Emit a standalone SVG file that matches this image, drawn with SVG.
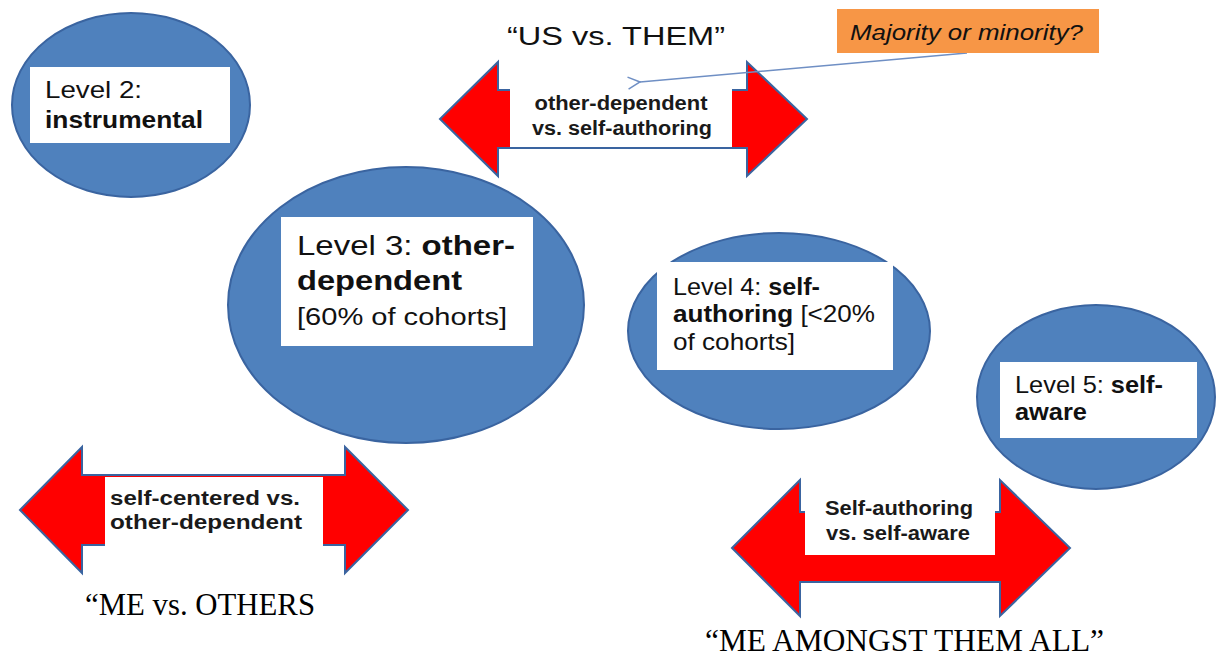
<svg xmlns="http://www.w3.org/2000/svg" width="1217" height="659" viewBox="0 0 1217 659">
  <defs>
    <style>
      .stage { fill: #4F81BD; stroke: #3A64A0; stroke-width: 2; }
      .tag { fill: #FFFFFF; }
      .span { fill: #FF0000; stroke: #3A64A0; stroke-width: 2; stroke-linejoin: miter; }
      .sans { font-family: "Liberation Sans", Arial, sans-serif; fill: #111111; }
      .serif { font-family: "Liberation Serif", "Times New Roman", serif; fill: #000000; }
      .b { font-weight: bold; }
      .lbl { font-family: "Liberation Sans", Arial, sans-serif; font-weight: bold; font-size: 20px; fill: #1a1a1a; }
      .pointer { fill: none; stroke: #6F8FC4; stroke-width: 1.5; }
    </style>
    <marker id="openHead" viewBox="0 0 14 14" refX="1" refY="7" markerWidth="14" markerHeight="14" markerUnits="userSpaceOnUse" orient="auto">
      <path d="M13,1 L1,7 L13,13" fill="none" stroke="#6F8FC4" stroke-width="1.5"/>
    </marker>
  </defs>
  <rect x="0" y="0" width="1217" height="659" fill="#FFFFFF"/>

  <!-- double-headed span arrows -->
  <g id="connectors">
    <g id="span-us-them">
      <path class="span" d="M440,119 L498,62 L498,90 L747,90 L747,62 L807,119 L747,176 L747,148 L498,148 L498,176 Z"/>
      <rect class="tag" x="510" y="84" width="222" height="63"/>
      <text class="lbl" x="621" y="110" text-anchor="middle" textLength="173" lengthAdjust="spacingAndGlyphs">other-dependent</text>
      <text class="lbl" x="622" y="135" text-anchor="middle" textLength="180" lengthAdjust="spacingAndGlyphs">vs. self-authoring</text>
    </g>
    <g id="span-me-others">
      <path class="span" d="M20,510 L82,447 L82,475 L345,475 L345,447 L408,510 L345,573 L345,545 L82,545 L82,573 Z"/>
      <rect class="tag" x="105" y="477" width="218" height="72"/>
      <text class="lbl" x="110" y="505" font-size="22" textLength="190" lengthAdjust="spacingAndGlyphs">self-centered vs.</text>
      <text class="lbl" x="110" y="529" font-size="22" textLength="192" lengthAdjust="spacingAndGlyphs">other-dependent</text>
    </g>
    <g id="span-me-all">
      <path class="span" d="M732,548 L800,480 L800,512 L1000,512 L1000,480 L1070,548 L1000,616 L1000,582 L800,582 L800,616 Z"/>
      <rect class="tag" x="805" y="490" width="190" height="65"/>
      <text class="lbl" x="825" y="515" font-size="21" textLength="148" lengthAdjust="spacingAndGlyphs">Self-authoring</text>
      <text class="lbl" x="826" y="540" font-size="21" textLength="144" lengthAdjust="spacingAndGlyphs">vs. self-aware</text>
    </g>
    <!-- callout pointer -->
    <line class="pointer" x1="967" y1="53" x2="640" y2="82" marker-end="url(#openHead)"/>
  </g>

  <!-- stage ellipses -->
  <g id="level2">
    <ellipse class="stage" cx="131" cy="105" rx="119" ry="92"/>
    <rect class="tag" x="30" y="67" width="200" height="76"/>
    <text class="sans" x="45" y="98" font-size="24" textLength="97" lengthAdjust="spacingAndGlyphs">Level 2:</text>
    <text class="sans b" x="45" y="128" font-size="24" textLength="158" lengthAdjust="spacingAndGlyphs">instrumental</text>
  </g>
  <g id="level3">
    <ellipse class="stage" cx="406" cy="305" rx="178" ry="138"/>
    <rect class="tag" x="281" y="217" width="252" height="129"/>
    <text class="sans" x="297" y="255" font-size="28" textLength="218" lengthAdjust="spacingAndGlyphs">Level 3: <tspan class="b">other-</tspan></text>
    <text class="sans b" x="297" y="290" font-size="28" textLength="165" lengthAdjust="spacingAndGlyphs">dependent</text>
    <text class="sans" x="297" y="325" font-size="23" textLength="210" lengthAdjust="spacingAndGlyphs">[60% of cohorts]</text>
  </g>
  <g id="level4">
    <ellipse class="stage" cx="779" cy="331" rx="151" ry="98"/>
    <rect class="tag" x="657" y="262" width="236" height="108"/>
    <text class="sans" x="673" y="295" font-size="24" textLength="147" lengthAdjust="spacingAndGlyphs">Level 4: <tspan class="b">self-</tspan></text>
    <text class="sans" x="673" y="322" font-size="24" textLength="202" lengthAdjust="spacingAndGlyphs"><tspan class="b">authoring</tspan> [&lt;20%</text>
    <text class="sans" x="673" y="350" font-size="24" textLength="122" lengthAdjust="spacingAndGlyphs">of cohorts]</text>
  </g>
  <g id="level5">
    <ellipse class="stage" cx="1096" cy="397" rx="119" ry="92"/>
    <rect class="tag" x="1000" y="362" width="197" height="76"/>
    <text class="sans" x="1015" y="393" font-size="24" textLength="148" lengthAdjust="spacingAndGlyphs">Level 5: <tspan class="b">self-</tspan></text>
    <text class="sans b" x="1015" y="420" font-size="24" textLength="72" lengthAdjust="spacingAndGlyphs">aware</text>
  </g>

  <!-- callout note -->
  <g id="callout">
    <rect x="837" y="9" width="262" height="44" fill="#F79646"/>
    <text class="sans" x="850" y="40" font-size="22" font-style="italic" textLength="233" lengthAdjust="spacingAndGlyphs">Majority or minority?</text>
  </g>

  <!-- captions -->
  <g id="captions">
    <text class="sans" x="507" y="45" font-size="25" textLength="218" lengthAdjust="spacingAndGlyphs">“US vs. THEM”</text>
    <text class="serif" x="85" y="615" font-size="32" textLength="230" lengthAdjust="spacingAndGlyphs">“ME vs. OTHERS</text>
    <text class="serif" x="705" y="651" font-size="31" textLength="399" lengthAdjust="spacingAndGlyphs">“ME AMONGST THEM ALL”</text>
  </g>
</svg>
